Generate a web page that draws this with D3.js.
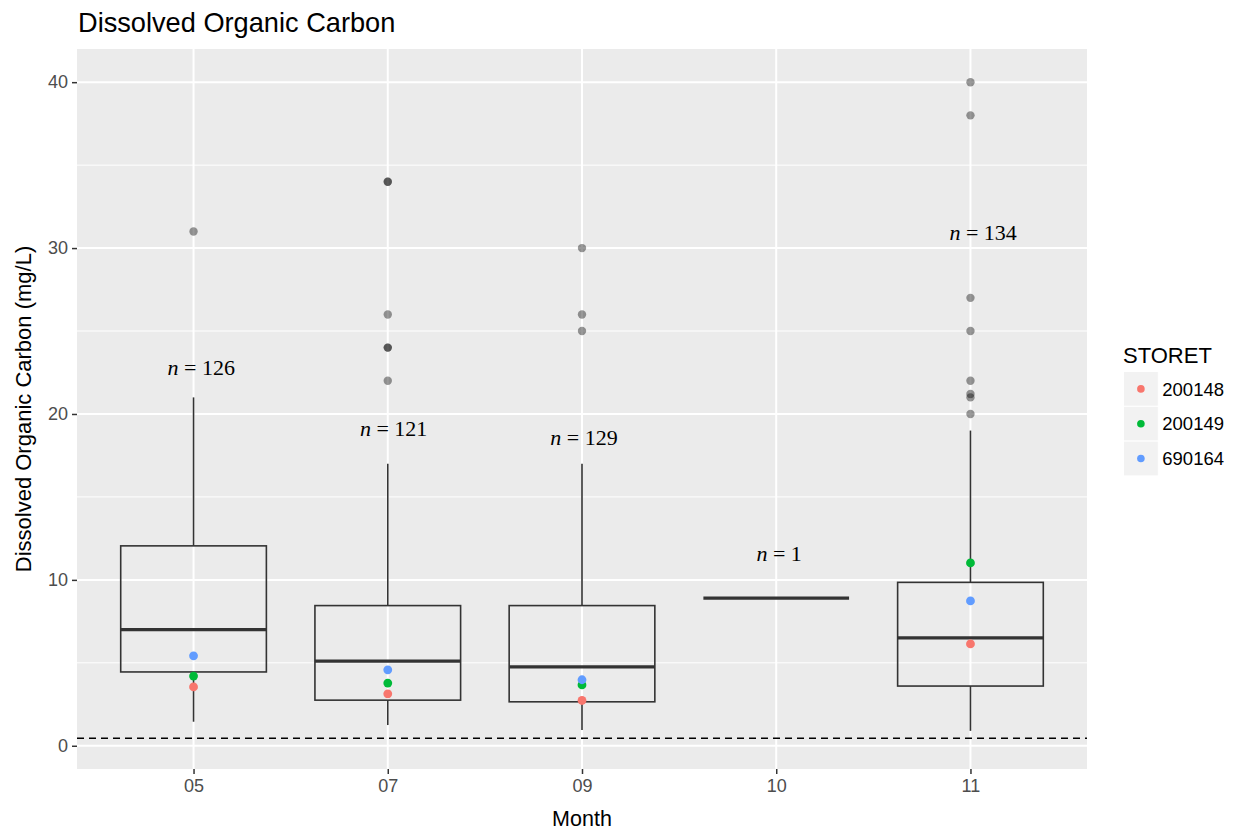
<!DOCTYPE html>
<html>
<head>
<meta charset="utf-8">
<script src="https://cdn.jsdelivr.net/npm/d3@7"></script>
<style>
  html, body { margin: 0; padding: 0; background: #ffffff; }
  svg { display: block; }
</style>
</head>
<body>
<svg id="chart" width="1238" height="830"></svg>
<script>
// ---------- data ----------
const months = ["05", "07", "09", "10", "11"];
const q1 = [4.45, 2.75, 2.65, 8.9, 3.6];
const medians = [7.0, 5.1, 4.75, 8.9, 6.5];
const q3 = [12.05, 8.45, 8.45, 8.9, 9.85];
const whiskerLow = [1.45, 1.25, 0.95, 8.9, 0.9];
const whiskerHigh = [21.0, 17.0, 17.0, 8.9, 19.0];
const outliers05 = [31];
const outliers07 = [34, 34, 26, 24, 24, 22];
const outliers09 = [30, 26, 25];
const outliers10 = [];
const outliers11 = [40, 38, 27, 25, 22, 21.2, 21, 20];
const counts = [126, 121, 129, 1, 134];
// label anchor in data space: y value, and x shift as a fraction of the category step
const countLabelY = [22.8, 19.15, 18.6, 11.57, 30.96];
const countLabelXShift = [0.04, 0.03, 0.01, 0.015, 0.065];
const stations = ["200148", "200149", "690164"];
const station200148 = [3.55, 3.13, 2.73, null, 6.14];
const station200149 = [4.2, 3.78, 3.67, null, 11.02];
const station690164 = [5.42, 4.58, 3.98, null, 8.73];
const detectionLimit = 0.45;
const yTicks = [0, 10, 20, 30, 40];
const yMinorTicks = [5, 15, 25, 35];
const stationColors = ["#F8766D", "#00BA38", "#619CFF"];

const outlierSets = [outliers05, outliers07, outliers09, outliers10, outliers11];
const stationSeries = [station200148, station200149, station690164];

// ---------- layout ----------
const svg = d3.select("#chart");
const panel = { left: 77, right: 1087, top: 49, bottom: 769 };
const sans = "'Liberation Sans', Arial, sans-serif";
const serif = "'Liberation Serif', 'Times New Roman', serif";

const x = d3.scalePoint().domain(months).range([panel.left, panel.right]).padding(0.6);
const y = d3.scaleLinear().domain([-1.4, 42]).range([panel.bottom, panel.top]);
const boxW = x.step() * 0.75;

// panel background
svg.append("rect")
  .attr("x", panel.left).attr("y", panel.top)
  .attr("width", panel.right - panel.left).attr("height", panel.bottom - panel.top)
  .attr("fill", "#EBEBEB");

// grid
const grid = svg.append("g");
grid.selectAll("line.minor").data(yMinorTicks).enter().append("line")
  .attr("x1", panel.left).attr("x2", panel.right)
  .attr("y1", d => y(d)).attr("y2", d => y(d))
  .attr("stroke", "#ffffff").attr("stroke-width", 1);
grid.selectAll("line.majory").data(yTicks).enter().append("line")
  .attr("x1", panel.left).attr("x2", panel.right)
  .attr("y1", d => y(d)).attr("y2", d => y(d))
  .attr("stroke", "#ffffff").attr("stroke-width", 2);
grid.selectAll("line.majorx").data(months).enter().append("line")
  .attr("y1", panel.top).attr("y2", panel.bottom)
  .attr("x1", d => x(d)).attr("x2", d => x(d))
  .attr("stroke", "#ffffff").attr("stroke-width", 2);

// boxes
const boxData = months.map((m, i) => ({
  m, q1: q1[i], med: medians[i], q3: q3[i], lo: whiskerLow[i], hi: whiskerHigh[i]
}));
const boxes = svg.append("g").selectAll("g").data(boxData).enter().append("g");
boxes.append("line")
  .attr("x1", d => x(d.m)).attr("x2", d => x(d.m))
  .attr("y1", d => y(d.q3)).attr("y2", d => y(d.hi))
  .attr("stroke", "#333333").attr("stroke-width", 1.6);
boxes.append("line")
  .attr("x1", d => x(d.m)).attr("x2", d => x(d.m))
  .attr("y1", d => y(d.q1)).attr("y2", d => y(d.lo))
  .attr("stroke", "#333333").attr("stroke-width", 1.6);
boxes.append("rect")
  .attr("x", d => x(d.m) - boxW / 2).attr("width", boxW)
  .attr("y", d => y(d.q3)).attr("height", d => y(d.q1) - y(d.q3))
  .attr("fill", "none").attr("stroke", "#333333").attr("stroke-width", 1.6);
boxes.append("line")
  .attr("x1", d => x(d.m) - boxW / 2).attr("x2", d => x(d.m) + boxW / 2)
  .attr("y1", d => y(d.med)).attr("y2", d => y(d.med))
  .attr("stroke", "#333333").attr("stroke-width", 3.2);

// outliers
const outlierPts = [];
outlierSets.forEach((arr, i) => arr.forEach(v => outlierPts.push({ m: months[i], v })));
svg.append("g").selectAll("circle").data(outlierPts).enter().append("circle")
  .attr("cx", d => x(d.m)).attr("cy", d => y(d.v)).attr("r", 4.2)
  .attr("fill", "#000000").attr("fill-opacity", 0.4);

// station points
const stPts = [];
stationSeries.forEach((arr, s) => arr.forEach((v, i) => {
  if (v !== null) stPts.push({ m: months[i], v, s });
}));
svg.append("g").selectAll("circle").data(stPts).enter().append("circle")
  .attr("cx", d => x(d.m)).attr("cy", d => y(d.v)).attr("r", 4.4)
  .attr("fill", d => stationColors[d.s]);

// dashed reference line
svg.append("line")
  .attr("x1", panel.left).attr("x2", panel.right)
  .attr("y1", y(detectionLimit)).attr("y2", y(detectionLimit))
  .attr("stroke", "#000000").attr("stroke-width", 1.5)
  .attr("stroke-dasharray", "7,5");

// n labels
const nLabels = svg.append("g").selectAll("text").data(months).enter().append("text")
  .attr("x", (d, i) => x(d) + countLabelXShift[i] * x.step())
  .attr("y", (d, i) => y(countLabelY[i]))
  .attr("dy", "0.34em")
  .attr("text-anchor", "middle")
  .attr("font-family", serif).attr("font-size", 22).attr("fill", "#000");
nLabels.append("tspan").attr("font-style", "italic").text("n");
nLabels.append("tspan").text((d, i) => " = " + counts[i]);

// axes
const yAxis = d3.axisLeft(y).tickValues(yTicks).tickSize(5).tickPadding(4);
const gy = svg.append("g").attr("transform", `translate(${panel.left},0)`).call(yAxis);
gy.select(".domain").remove();
gy.selectAll(".tick line").attr("stroke", "#333333").attr("stroke-width", 1.5);
gy.selectAll(".tick text").attr("font-family", sans).attr("font-size", 18).attr("fill", "#4D4D4D");

const xAxis = d3.axisBottom(x).tickSize(5).tickPadding(5);
const gx = svg.append("g").attr("transform", `translate(0,${panel.bottom})`).call(xAxis);
gx.select(".domain").remove();
gx.selectAll(".tick line").attr("stroke", "#333333").attr("stroke-width", 1.5);
gx.selectAll(".tick text").attr("font-family", sans).attr("font-size", 18).attr("fill", "#4D4D4D");

// titles
svg.append("text").attr("x", 78).attr("y", 32)
  .attr("font-family", sans).attr("font-size", 27.2).attr("fill", "#000")
  .text("Dissolved Organic Carbon");
svg.append("text").attr("x", (panel.left + panel.right) / 2).attr("y", 826)
  .attr("text-anchor", "middle")
  .attr("font-family", sans).attr("font-size", 21.5).attr("fill", "#000")
  .text("Month");
svg.append("text")
  .attr("transform", `translate(31,${(panel.top + panel.bottom) / 2}) rotate(-90)`)
  .attr("text-anchor", "middle")
  .attr("font-family", sans).attr("font-size", 22).attr("fill", "#000")
  .text("Dissolved Organic Carbon (mg/L)");

// legend
const lg = svg.append("g");
lg.append("text").attr("x", 1123).attr("y", 363)
  .attr("font-family", sans).attr("font-size", 22).attr("fill", "#000")
  .text("STORET");
const keySize = 34.8;
const keys = lg.selectAll("g.key").data(stations).enter().append("g")
  .attr("transform", (d, i) => `translate(1123.5,${371.5 + i * keySize})`);
keys.append("rect").attr("width", keySize).attr("height", keySize)
  .attr("fill", "#F2F2F2").attr("stroke", "#ffffff").attr("stroke-width", 1);
keys.append("circle").attr("cx", keySize / 2).attr("cy", keySize / 2).attr("r", 3.8)
  .attr("fill", (d, i) => stationColors[i]);
keys.append("text").attr("x", keySize + 4).attr("y", keySize / 2).attr("dy", "0.36em")
  .attr("font-family", sans).attr("font-size", 18.5).attr("fill", "#000")
  .text(d => d);
</script>
</body>
</html>
